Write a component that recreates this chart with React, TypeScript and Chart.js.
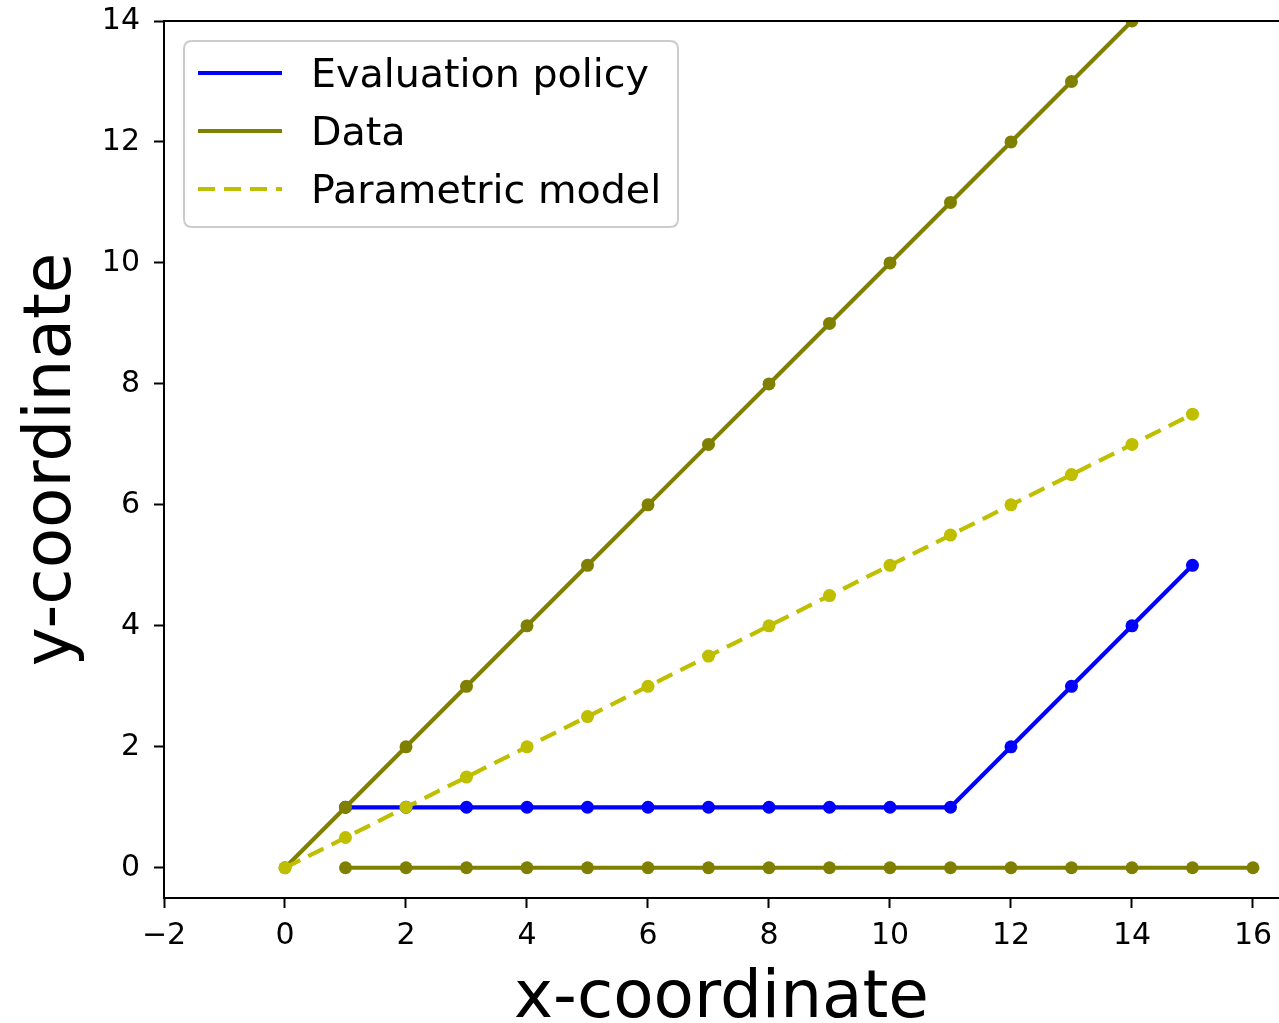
import React, { useEffect, useRef } from 'react';
import { Chart, registerables } from 'chart.js';

Chart.register(...registerables);

const FONT = '"DejaVu Sans", Verdana, sans-serif';

// ---- data ----
const evalX = [1, 2, 3, 4, 5, 6, 7, 8, 9, 10, 11, 12, 13, 14, 15];
const evalY = [1, 1, 1, 1, 1, 1, 1, 1, 1, 1, 1, 2, 3, 4, 5];

const dataDiagX = [0, 1, 2, 3, 4, 5, 6, 7, 8, 9, 10, 11, 12, 13, 14];
const dataDiagY = [0, 1, 2, 3, 4, 5, 6, 7, 8, 9, 10, 11, 12, 13, 14];

const dataFlatX = [1, 2, 3, 4, 5, 6, 7, 8, 9, 10, 11, 12, 13, 14, 15, 16];
const dataFlatY = [0, 0, 0, 0, 0, 0, 0, 0, 0, 0, 0, 0, 0, 0, 0, 0];

const modelX = [0, 1, 2, 3, 4, 5, 6, 7, 8, 9, 10, 11, 12, 13, 14, 15];
const modelY = [0, 0.5, 1, 1.5, 2, 2.5, 3, 3.5, 4, 4.5, 5, 5.5, 6, 6.5, 7, 7.5];

const xTicks = [-2, 0, 2, 4, 6, 8, 10, 12, 14, 16];
const yTicks = [0, 2, 4, 6, 8, 10, 12, 14];
const xLimits = [-2, 16.43];
const yLimits = [-0.5, 14];

const legendLabels = ['Evaluation policy', 'Data', 'Parametric model'];

// ---- styles ----
const BLUE = '#0000ff';
const OLIVE = '#808000';
const YELLOW = '#bfbf00';
const DASH = [17, 9];

const pts = (xs: number[], ys: number[]) => xs.map((x, i) => ({ x, y: ys[i] }));
const fmt = (v: number) => (v < 0 ? '\u2212' + Math.abs(v) : String(v));

const legendStyles = [
  { color: BLUE, dash: [] as number[] },
  { color: OLIVE, dash: [] as number[] },
  { color: YELLOW, dash: DASH },
];

const mplPlugin = {
  id: 'mplExtras',
  afterDraw(chart: any) {
    const ctx = chart.ctx as CanvasRenderingContext2D;
    const { left, right, top } = chart.chartArea;
    ctx.save();
    // top spine
    ctx.strokeStyle = '#000';
    ctx.lineWidth = 2;
    ctx.beginPath();
    ctx.moveTo(left - 1, top);
    ctx.lineTo(right, top);
    ctx.stroke();

    // legend frame
    const bx = 184, by = 41, bw = 494, bh = 186, r = 8;
    ctx.beginPath();
    ctx.moveTo(bx + r, by);
    ctx.lineTo(bx + bw - r, by);
    ctx.quadraticCurveTo(bx + bw, by, bx + bw, by + r);
    ctx.lineTo(bx + bw, by + bh - r);
    ctx.quadraticCurveTo(bx + bw, by + bh, bx + bw - r, by + bh);
    ctx.lineTo(bx + r, by + bh);
    ctx.quadraticCurveTo(bx, by + bh, bx, by + bh - r);
    ctx.lineTo(bx, by + r);
    ctx.quadraticCurveTo(bx, by, bx + r, by);
    ctx.closePath();
    ctx.fillStyle = 'rgba(255,255,255,0.8)';
    ctx.fill();
    ctx.strokeStyle = '#cccccc';
    ctx.lineWidth = 2;
    ctx.stroke();

    // legend entries
    ctx.font = `39.6px ${FONT}`;
    ctx.textBaseline = 'alphabetic';
    ctx.textAlign = 'left';
    legendLabels.forEach((label, i) => {
      const st = legendStyles[i];
      const ly = 73 + i * 58;
      ctx.beginPath();
      ctx.setLineDash(st.dash);
      ctx.lineCap = 'butt';
      ctx.strokeStyle = st.color;
      ctx.lineWidth = 4.2;
      ctx.moveTo(198, ly);
      ctx.lineTo(282, ly);
      ctx.stroke();
      ctx.setLineDash([]);
      ctx.fillStyle = '#000';
      ctx.fillText(label, 311, ly + 14);
    });
    ctx.restore();
  },
};

export default function App() {
  const ref = useRef<HTMLCanvasElement>(null);

  useEffect(() => {
    const canvas = ref.current;
    if (!canvas) return;

    const common = {
      showLine: true,
      borderWidth: 4.2,
      pointRadius: 6.5,
      pointHoverRadius: 6.5,
      pointBorderWidth: 0,
      borderJoinStyle: 'round' as const,
      clip: 0,
      fill: false,
      tension: 0,
    };

    const chart = new Chart(canvas, {
      type: 'line',
      data: {
        datasets: [
          {
            ...common,
            label: legendLabels[0],
            data: pts(evalX, evalY),
            borderColor: BLUE,
            backgroundColor: BLUE,
            pointBackgroundColor: BLUE,
            order: 4,
          },
          {
            ...common,
            label: legendLabels[1],
            data: pts(dataDiagX, dataDiagY),
            borderColor: OLIVE,
            backgroundColor: OLIVE,
            pointBackgroundColor: OLIVE,
            order: 3,
          },
          {
            ...common,
            label: legendLabels[1] + ' ',
            data: pts(dataFlatX, dataFlatY),
            borderColor: OLIVE,
            backgroundColor: OLIVE,
            pointBackgroundColor: OLIVE,
            order: 2,
          },
          {
            ...common,
            label: legendLabels[2],
            data: pts(modelX, modelY),
            borderColor: YELLOW,
            backgroundColor: YELLOW,
            pointBackgroundColor: YELLOW,
            borderDash: DASH,
            borderCapStyle: 'butt',
            order: 1,
          },
        ],
      },
      options: {
        animation: false,
        responsive: false,
        maintainAspectRatio: false,
        events: [],
        layout: { autoPadding: false, padding: { left: 0, right: 0, top: 21, bottom: 0 } },
        plugins: {
          legend: { display: false },
          tooltip: { enabled: false },
          title: { display: false },
        },
        scales: {
          x: {
            type: 'linear',
            min: xLimits[0],
            max: xLimits[1],
            afterBuildTicks: (s: any) => {
              s.ticks = xTicks.map((v) => ({ value: v }));
            },
            afterFit: (s: any) => {
              s.height = 125;
              s.paddingLeft = 0;
              s.paddingRight = 0;
            },
            grid: {
              display: true,
              drawOnChartArea: false,
              drawTicks: true,
              tickLength: 10,
              tickWidth: 2,
              tickColor: '#000',
            },
            border: { display: true, color: '#000', width: 2 },
            ticks: {
              font: { family: FONT, size: 30 },
              color: '#000',
              padding: 10,
              autoSkip: false,
              maxRotation: 0,
              minRotation: 0,
              callback: (v: any) => fmt(Number(v)),
            },
            title: {
              display: true,
              text: 'x-coordinate',
              color: '#000',
              font: { family: FONT, size: 66, lineHeight: 0.7 },
              padding: { top: 0, bottom: 0 },
            },
          },
          y: {
            type: 'linear',
            min: yLimits[0],
            max: yLimits[1],
            afterBuildTicks: (s: any) => {
              s.ticks = yTicks.map((v) => ({ value: v }));
            },
            afterFit: (s: any) => {
              s.width = 164;
              s.paddingTop = 0;
              s.paddingBottom = 0;
            },
            grid: {
              display: true,
              drawOnChartArea: false,
              drawTicks: true,
              tickLength: 10,
              tickWidth: 2,
              tickColor: '#000',
            },
            border: { display: true, color: '#000', width: 2 },
            ticks: {
              font: { family: FONT, size: 30 },
              color: '#000',
              padding: 14,
              autoSkip: false,
              callback: (v: any) => fmt(Number(v)),
            },
            title: {
              display: true,
              text: 'y-coordinate',
              color: '#000',
              font: { family: FONT, size: 66, lineHeight: 0.7 },
              padding: { top: 30, bottom: 0 },
            },
          },
        },
      },
      plugins: [mplPlugin],
    } as any);

    return () => chart.destroy();
  }, []);

  return (
    <div style={{ position: 'absolute', left: 0, top: 0, width: 1279, height: 1023, background: '#fff' }}>
      <canvas ref={ref} width={1279} height={1023} style={{ display: 'block' }} />
    </div>
  );
}
